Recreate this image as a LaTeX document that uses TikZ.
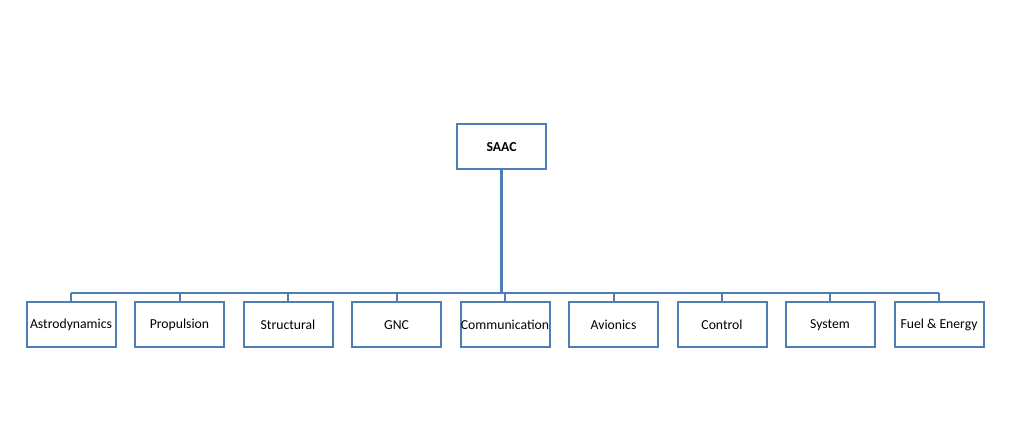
\documentclass[tikz,border=0pt]{standalone}
\usepackage{fontspec}
\setmainfont{Carlito}
\definecolor{boxblue}{RGB}{79,126,180}
\begin{document}
\begin{tikzpicture}[x=1pt,y=-1pt,
  box/.style={draw=boxblue,line width=2pt,fill=white,minimum width=89pt,minimum height=45pt,inner sep=0pt,font=\fontsize{13.7}{15}\selectfont},
  link/.style={draw=boxblue,line width=2pt}]
\useasboundingbox (0,0) rectangle (1009,435);
\node[box,font=\fontsize{13.7}{15}\selectfont\bfseries] (root) at (501.5,147) {SAAC};
\coordinate (bus) at (501.5,293);
\foreach \i/\x/\t in {1/71/Astrodynamics,2/179.5/Propulsion,3/288/Structural,4/396.5/GNC,5/505/Communication,6/613.5/Avionics,7/722/Control,8/830/System,9/939/Fuel \& Energy}{
  \node[box] (c\i) at (\x,325) {\t};
  \coordinate (t\i) at (\x,293);
}
\draw[link,line width=3pt] (root.south) -- (bus);
\draw[link] (t1) -- (t9);
\foreach \i in {1,...,9}{ \draw[link] (t\i) -- (c\i.north); }
\end{tikzpicture}
\end{document}
